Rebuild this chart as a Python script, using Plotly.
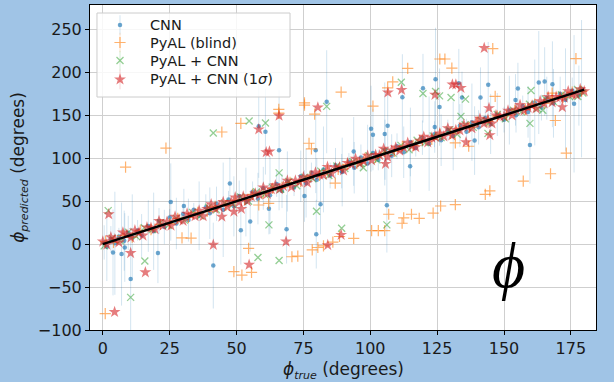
import plotly.graph_objects as go

# ---------------- data ----------------
cnn_x = [0.5, 1.5, 3, 4.5, 6, 8, 9.5, 11, 13, 14.5, 17, 19, 21, 23, 25, 27.5, 30, 32, 34, 36,
         38.5, 40, 42.5, 45, 47, 49, 51, 53.5, 56, 58, 60, 62.5, 65, 67, 69, 71.5, 74, 76, 78, 80,
         82.5, 85, 87, 89.5, 92, 94, 96.5, 99, 101, 103, 105.5, 108, 110, 112.5, 115, 117, 119.5, 122, 124, 126.5,
         129, 131, 133.5, 136, 138, 140.5, 143, 145, 147.5, 150, 152, 154.5, 157, 159, 161.5, 164, 166, 168.5, 171, 173,
         175.5, 178, 179,
         8.2, 7, 3.8, 10.4, 20.6, 25.4, 30.3, 41.3, 47.5, 51.6, 55.1, 58.3, 60.8, 62.1, 65.9, 68.7, 75.4, 79.6, 79.8, 83.7,
         81.4, 89.3, 93.8, 100.3, 101, 105.4, 106.5, 106.2, 112, 114.9, 119.7, 124.4, 125.9, 124.1, 133.1, 134.3, 139, 141.2, 144.1, 155.2,
         159.7, 163, 165.2, 168.1, 176.2, 154.3]
cnn_y = [2, -3, 6, 1, 9, 4, 13, 8, 16, 10, 21, 15, 27, 20, 31, 24, 35, 28, 40, 33,
         43, 36, 47, 40, 52, 44, 56, 49, 61, 53, 65, 57, 70, 62, 73, 66, 79, 71, 83, 75,
         87, 80, 92, 84, 96, 89, 101, 94, 106, 98, 110, 103, 114, 107, 119, 112, 124, 117, 128, 121,
         133, 126, 138, 131, 142, 136, 147, 140, 151, 145, 156, 150, 161, 154, 165, 159, 170, 164, 175, 168,
         179, 173, 181,
         -3.9, -11.6, -9.7, -40.6, -10.4, 49, 44.4, -25, 70.7, 16.2, 26.3, 137.2, 131, 41.3, 109.4, 17.4, 56, 109.4, 11.6, 165.8,
         46.4, 85, 108, 134.5, 127.5, 128.3, 138, 45.2, 171.2, 90.8, 181.6, 192, 159.6, 136.4, 187.4, 170.8, 120.6, 170.8, 185.5, 181.2,
         115.5, 188.2, 189.3, 186.2, 163.4, 168]
cnn_err = [20, 40, 15, 60, 10, 35, 20, 50, 12, 25, 30, 45, 15, 20, 10, 30, 12, 25, 8, 40,
           15, 30, 20, 55, 10, 35, 18, 40, 12, 30, 25, 45, 15, 20, 35, 10, 30, 40, 12, 25,
           50, 15, 20, 40, 10, 30, 15, 45, 20, 12, 35, 25, 15, 30, 40, 10, 20, 55, 15, 30,
           12, 40, 25, 15, 45, 20, 10, 35, 25, 15, 40, 20, 12, 30, 50, 15, 25, 40, 20, 60,
           15, 35, 80,
           40, 60, 50, 60, 35, 45, 20, 50, 30, 40, 35, 60, 50, 30, 70, 40, 30, 50, 40, 60,
           35, 20, 40, 50, 30, 60, 40, 55, 50, 30, 40, 60, 45, 30, 40, 30, 40, 35, 50, 30,
           45, 60, 40, 50, 80, 30]

blind_x = [1, 4, 7.5, 11, 14, 18, 21.5, 25, 28, 32, 35.5, 39, 42, 46, 49.5, 53, 56, 60, 63.5, 67,
           70, 74, 77.5, 81, 84, 88, 91.5, 95, 98, 102, 105.5, 109, 112, 116, 119.5, 123, 126, 130, 133.5, 137,
           140, 144, 147.5, 151, 154, 158, 161.5, 165, 168, 172, 175.5, 179,
           0.9, 8.5, 23.6, 29.6, 33, 44.5, 49, 52, 51.6, 54.5, 55.6, 58.3, 62, 65.8, 65.8, 70.7, 72.9, 75.4, 75.4, 77.1,
           78, 79.2, 78.3, 80.4, 82.5, 86, 88.5, 89.1, 86.9, 93.8, 101, 100.5, 103, 105.4, 106.9, 108.4, 111.9, 112.5, 114, 115.4,
           118.3, 123.5, 126.3, 126, 127.9, 130.5, 131.8, 131.8, 143, 144.7, 145.8, 146.7, 157.2, 167.4, 169.2, 173.3, 176.9, 168, 136.8, 106.5]
blind_y = [3, 2, 10, 8, 16, 17, 23, 24, 30, 31, 37, 38, 44, 45, 51, 52, 58, 59, 65, 66,
           72, 73, 79, 80, 86, 87, 93, 94, 100, 101, 107, 108, 114, 115, 121, 122, 128, 129, 135, 136,
           142, 143, 149, 150, 156, 157, 163, 164, 170, 171, 177, 178,
           -81, 89.6, 111.7, 7.3, 7, 130.6, -32, -36, 140.6, -5, -33, 45.6, 47.5, 157, 152.6, -14.7, -14, 164.6, 161.9, 117.5,
           110.9, 151.5, -6.6, -3.9, -2, 2.3, 8.9, 177, 71, 6.6, 160.7, 15.8, 15.8, 15.8, 34.8, 189, 24.3, 30.5, 204.8, 34.8,
           30, 36, 44.4, 215.6, 215.6, 205, 46, 117.9, 58, 62, 227.6, 172, 73.4, 82, 144, 106, 216, 175.8, 114, 182]

comb_x = [0.5, 3.5, 6.5, 9.5, 12.5, 15.5, 18.5, 21.5, 24.5, 27.5, 30.5, 33.5, 36.5, 39.5, 42.5, 45.5, 48.5, 51.5, 54.5, 57.5,
          60.5, 63.5, 66.5, 69.5, 72.5, 75.5, 78.5, 81.5, 84.5, 87.5, 90.5, 93.5, 96.5, 99.5, 102.5, 105.5, 108.5, 111.5, 114.5, 117.5,
          120.5, 123.5, 126.5, 129.5, 132.5, 135.5, 138.5, 141.5, 144.5, 147.5, 150.5, 153.5, 156.5, 159.5, 162.5, 165.5, 168.5, 171.5, 174.5, 177.5, 179.5,
          2, 10.4, 15.7, 41.3, 54.7, 58, 60.8, 62.1, 65.9, 65.9, 79.9, 83.7, 89.3, 97.4, 106.2, 111.6, 119.7, 124.4, 125.9, 130.2,
          135.6, 133.9, 159.7, 160.1, 144, 177.6, 164.5]
comb_y = [-2, 7, 4, 14, 9, 19, 17, 25, 22, 30, 28, 37, 33, 43, 40, 48, 46, 55, 50, 61,
          58, 66, 64, 73, 68, 78, 76, 85, 80, 91, 88, 96, 94, 103, 98, 108, 106, 115, 110, 121,
          118, 126, 124, 133, 128, 139, 136, 144, 142, 151, 146, 156, 154, 163, 158, 169, 166, 174, 172, 180, 176,
          39, -62, -19.7, 129.4, 143.4, -15.5, 141, 22.4, 83, -19, 38.3, 160.4, 18.5, 88.9, 22.4, 188.6, 175.4, 177.7, 172.7, 170.8,
          168.9, 148.8, 140.6, 178.9, 129, 172, 156]

sig_x = [0, 1.5, 3, 4.5, 6, 7.5, 9, 10.5, 12, 13.5, 15, 16.5, 18, 19.5, 21, 22.5, 24, 25.5, 27, 28.5,
         30, 31.5, 33, 34.5, 36, 37.5, 39, 40.5, 42, 43.5, 45, 46.5, 48, 49.5, 51, 52.5, 54, 55.5, 57, 58.5,
         60, 61.5, 63, 64.5, 66, 67.5, 69, 70.5, 72, 73.5, 75, 76.5, 78, 79.5, 81, 82.5, 84, 85.5, 87, 88.5,
         90, 91.5, 93, 94.5, 96, 97.5, 99, 100.5, 102, 103.5, 105, 106.5, 108, 109.5, 111, 112.5, 114, 115.5, 117, 118.5,
         120, 121.5, 123, 124.5, 126, 127.5, 129, 130.5, 132, 133.5, 135, 136.5, 138, 139.5, 141, 142.5, 144, 145.5, 147, 148.5,
         150, 151.5, 153, 154.5, 156, 157.5, 159, 160.5, 162, 163.5, 165, 166.5, 168, 169.5, 171, 172.5, 174, 175.5, 177, 178.5, 180,
         2.2, 4.4, 10.4, 15.9, 41.3, 44.5, 49, 51.8, 54.7, 58.3, 61.1, 62.3, 65.9, 68.5, 80.4, 84.1, 89.1, 105.7, 106.6, 111.7,
         124.2, 130.7, 132, 133.9, 135.8, 142.6, 144.7, 144.4, 171.8]
sig_y = [3, -0.5, 8, 5.5, 2, 13.5, 11, 7.5, 16, 13.5, 10, 19.5, 19, 17.5, 27, 21.5, 26, 21.5, 32, 28.5,
         27, 35.5, 34, 32.5, 39, 32.5, 41, 46.5, 41, 43.5, 49, 43.5, 49, 54.5, 49, 55.5, 50, 55.5, 59, 57.5,
         66, 58.5, 64, 68.5, 64, 67.5, 74, 66.5, 74, 72.5, 78, 71.5, 79, 83.5, 81, 80.5, 90, 82.5, 89, 89.5,
         86, 94.5, 93, 99.5, 94, 96.5, 103, 97.5, 104, 103.5, 111, 101.5, 109, 112.5, 109, 112.5, 118, 114.5, 113, 120.5,
         125, 118.5, 124, 124.5, 129, 125.5, 135, 126.5, 133, 132.5, 139, 136.5, 135, 141.5, 146, 140.5, 145, 140.5, 150, 148.5,
         149, 155.5, 150, 156.5, 162, 155.5, 159, 161.5, 158, 166.5, 164, 171.5, 165, 171.5, 171, 170.5, 178, 174.5, 174, 180.5, 178,
         34.8, -79, -10.4, -32.8, -0.8, 32, 37.9, 41, -24, 133.7, 107, 107.8, 149.5, 3, 159.2, -1.2, 10.8, 93.5, 176.6, 179.7,
         173.9, 185.9, 185.9, 182, 118.6, 228.4, 127, 158.4, 159.6]

line_x = [0, 180]
line_y = [0, 180]

x_ticks = [0, 25, 50, 75, 100, 125, 150, 175]
y_ticks = [-100, -50, 0, 50, 100, 150, 200, 250]

series_names = ["CNN", "PyAL (blind)", "PyAL + CNN", "PyAL + CNN (1<i>σ</i>)"]

# ---------------- styles ----------------
FONT = "DejaVu Sans"
styles = [
    dict(symbol="circle", size=4.5, color="rgba(31,119,180,0.65)", line=dict(width=0)),
    dict(symbol="cross-thin", size=8, color="rgba(255,127,14,0.6)",
         line=dict(width=1.2, color="rgba(255,127,14,0.6)")),
    dict(symbol="x-thin", size=7, color="rgba(44,160,44,0.5)",
         line=dict(width=1.3, color="rgba(44,160,44,0.5)")),
    dict(symbol="star", size=9, color="rgba(214,39,40,0.6)", line=dict(width=0)),
]
err_colors = ["rgba(31,119,180,0.2)", "rgba(255,127,14,0.2)",
              "rgba(44,160,44,0.2)", "rgba(214,39,40,0.2)"]

fig = go.Figure()

fig.add_trace(go.Scatter(
    x=cnn_x, y=cnn_y, mode="markers", name=series_names[0], marker=styles[0],
    error_y=dict(type="data", array=cnn_err, visible=True, color=err_colors[0],
                 thickness=1, width=0),
))
fig.add_trace(go.Scatter(x=blind_x, y=blind_y, mode="markers", name=series_names[1], marker=styles[1]))
fig.add_trace(go.Scatter(x=comb_x, y=comb_y, mode="markers", name=series_names[2], marker=styles[2]))
fig.add_trace(go.Scatter(x=sig_x, y=sig_y, mode="markers", name=series_names[3], marker=styles[3]))
fig.add_trace(go.Scatter(x=line_x, y=line_y, mode="lines", line=dict(color="black", width=2.5)))

# ---------------- legend (drawn on an overlay axis in plot-fraction units) ----------------
box_x0, box_x1, box_y0, box_y1 = 0.0138, 0.3953, 0.7169, 0.9754
fig.add_trace(go.Scatter(
    x=[box_x0, box_x1, box_x1, box_x0, box_x0], y=[box_y0, box_y0, box_y1, box_y1, box_y0],
    mode="lines", fill="toself", fillcolor="rgba(255,255,255,0.82)",
    line=dict(color="#cccccc", width=1), xaxis="x2", yaxis="y2", hoverinfo="skip",
))
row_y = [0.9385, 0.8846, 0.8292, 0.7708]
for name, st, ec, ry in zip(series_names, styles, err_colors, row_y):
    fig.add_trace(go.Scatter(
        x=[0.0593], y=[ry], mode="markers", marker=st, xaxis="x2", yaxis="y2", hoverinfo="skip",
        error_y=dict(type="constant", value=0.03, visible=True, color=ec, thickness=1, width=0),
    ))
    fig.add_annotation(x=0.1146, y=ry, xref="paper", yref="paper", text=name, showarrow=False,
                       xanchor="left", yanchor="middle",
                       font=dict(family=FONT, size=14.5, color="#1a1a1a"))

fig.add_annotation(
    x=151.5, y=-25, xref="x", yref="y", text="<i>ϕ</i>", showarrow=False,
    font=dict(family="Liberation Serif", size=64, color="black"),
)

# x-axis title placed as an annotation just below the tick labels
fig.add_annotation(
    x=0.5, y=-0.126, xref="paper", yref="paper", xanchor="center", yanchor="middle",
    text="<i>ϕ</i><sub><span style='font-size:11px'><i>true</i></span></sub> (degrees)", showarrow=False,
    font=dict(family=FONT, size=17, color="#1a1a1a"),
)

axis_common = dict(
    automargin=False,
    showline=True, linecolor="black", linewidth=1, mirror=True,
    ticks="outside", ticklen=4, tickcolor="black", tickwidth=1,
    showgrid=True, gridcolor="#cfcfcf", gridwidth=1.2, zeroline=False,
    tickfont=dict(family=FONT, size=16, color="#1a1a1a"),
)

fig.update_layout(
    width=614, height=382,
    margin=dict(l=90, r=18, t=5, b=52, pad=0),
    paper_bgcolor="#a0c4e6",
    plot_bgcolor="white",
    font=dict(family=FONT, color="#1a1a1a"),
    showlegend=False,
    xaxis=dict(range=[-4.8, 184.4], tickvals=x_ticks, **axis_common),
    yaxis=dict(range=[-100, 278.5], tickvals=y_ticks,
               title=dict(text="<i>ϕ</i><sub><span style='font-size:11px'><i>predicted</i></span></sub> (degrees)",
                          font=dict(family=FONT, size=17), standoff=8),
               **axis_common),
    xaxis2=dict(overlaying="x", range=[0, 1], visible=False, showgrid=False, zeroline=False, fixedrange=True),
    yaxis2=dict(overlaying="y", range=[0, 1], visible=False, showgrid=False, zeroline=False, fixedrange=True),
)

# remove the browser's default 8px page margin so the figure sits at the window origin
fig.write_html("out.html", config={"displayModeBar": False},
               post_script="document.body.style.margin='0';document.body.style.overflow='hidden';")
